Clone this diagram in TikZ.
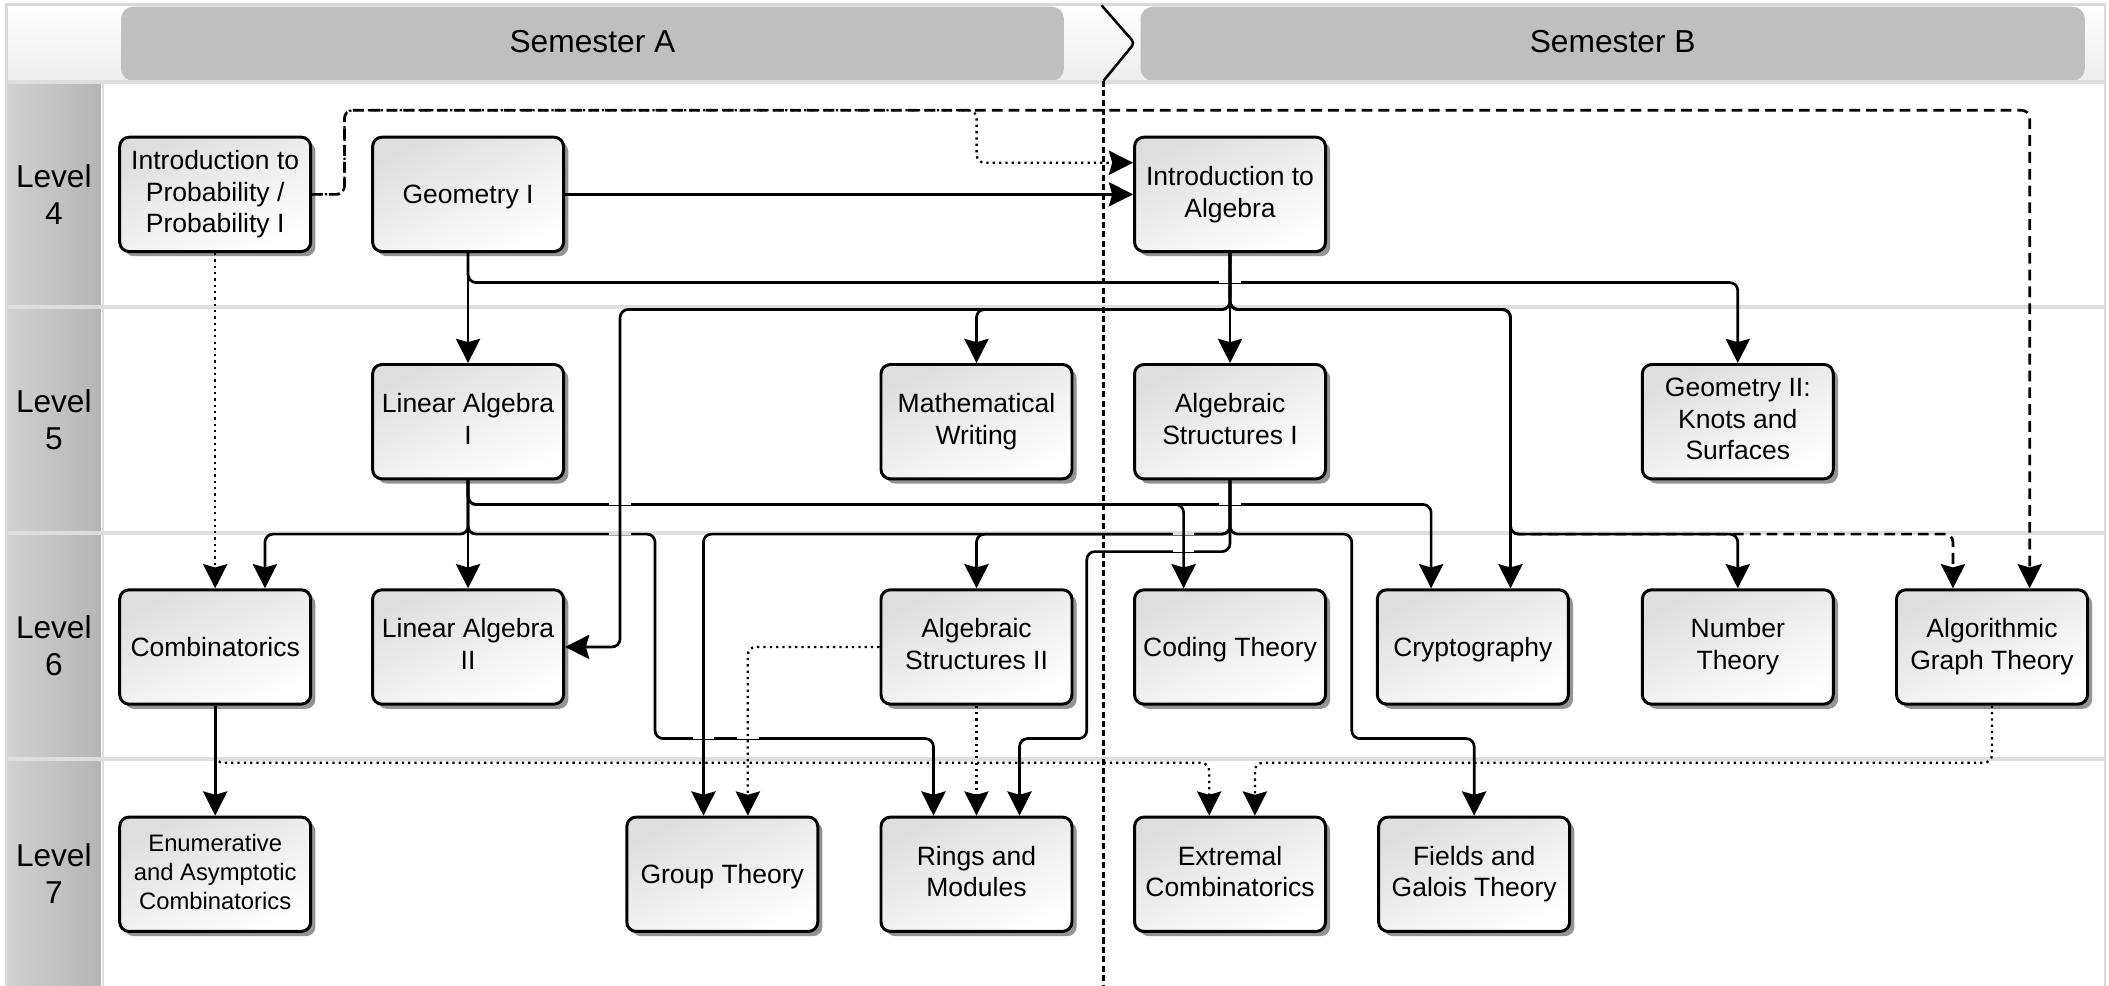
\documentclass[tikz,border=0pt]{standalone}
\usepackage{fontspec}
\setmainfont{Liberation Sans}
\usetikzlibrary{arrows.meta,calc,shadows}
\begin{document}
\begin{tikzpicture}[x=1pt,y=-1pt,
  box/.style={draw=black, line width=2.2pt, rounded corners=7pt,
    minimum width=142pt, minimum height=85pt, inner sep=0pt, align=center,
    font=\fontsize{19.7}{23.6}\selectfont,
    execute at begin node={\rule{0pt}{0.905em}},
    execute at end node={\rule[-0.212em]{0pt}{0.212em}},
    top color=black!13, bottom color=white, shading angle=25,
    drop shadow={shadow xshift=3.5pt, shadow yshift=-3.5pt, fill=black!42, opacity=1}},
  lvltext/.style={align=center, inner sep=0pt, font=\fontsize{23.5}{27.5}\selectfont},
  hdrtext/.style={inner sep=0pt, font=\fontsize{23.6}{28}\selectfont},
  semband/.style={fill=black!25, rounded corners=9pt},
  sepline/.style={draw=black!13, line width=3pt},
  solidarr/.style={line width=2pt, rounded corners=6pt, line join=round,
    -{Stealth[length=18pt,width=18pt,inset=2.5pt]}},
  dasharr/.style={solidarr, dash pattern=on 8pt off 4.5pt},
  dotarr/.style={solidarr, line width=1.7pt, dash pattern=on 1.7pt off 3pt},
  gap/.style={draw=white, line width=3.2pt},
  semline/.style={line width=1.9pt, dash pattern=on 4.5pt off 2.5pt}
]
% canvas
\useasboundingbox (0,0) rectangle (1568,733);
\fill[white] (0,0) rectangle (1568,733);
% header row
\shade[top color=white, bottom color=black!7] (5,4) rectangle (1565,61);
\fill[semband] (90,5) rectangle (791,60);
\fill[semband] (848,5) rectangle (1550,60);
\node[hdrtext] (semA) at (440.5,30.7) {Semester A};
\node[hdrtext] (semB) at (1199,30.7) {Semester B};
% level column
\foreach \n/\ya/\yb in {4/62/227, 5/229.5/395, 6/397.5/563, 7/565.5/733} {
  \shade[left color=black!18, right color=black!29] (5,\ya) rectangle (75,\yb);
  \node[lvltext] (lvl\n) at (40,{(\ya+\yb)/2}) {Level\\\n};
}
% separators and frame
\draw[sepline] (5,61) -- (1565,61);
\draw[sepline] (5,228.2) -- (1565,228.2);
\draw[sepline] (5,396.5) -- (1565,396.5);
\draw[sepline] (5,564.5) -- (1565,564.5);
\draw[draw=black!13, line width=2pt] (76.5,61) -- (76.5,733);
\draw[draw=black!15, line width=2pt] (5,733) -- (5,3.5) -- (1565,3.5) -- (1565,733);
% semester divider
\coordinate (chevT) at (819,4);
\coordinate (chevP) at (843.5,32);
\coordinate (chevB) at (820.5,60);
\coordinate (semEnd) at (820.5,733);
\draw[line width=1.9pt, rounded corners=3pt] (chevT) -- (chevP) -- (chevB);
\draw[semline] (chevB) -- (semEnd);

% nodes
\node[box] (prob) at (160,144.5) {Introduction to\\Probability /\\Probability I};
\node[box] (geo1) at (348,144.5) {Geometry I};
\node[box] (introalg) at (914.5,144.5) {Introduction to\\Algebra};
\node[box] (linalg1) at (348,313.5) {Linear Algebra\\I};
\node[box] (mathwrite) at (726,313.5) {Mathematical\\Writing};
\node[box] (algstr1) at (914.5,313.5) {Algebraic\\Structures I};
\node[box] (geo2) at (1292,313.5) {Geometry II:\\Knots and\\Surfaces};
\node[box] (comb) at (160,481) {Combinatorics};
\node[box] (linalg2) at (348,481) {Linear Algebra\\II};
\node[box] (algstr2) at (726,481) {Algebraic\\Structures II};
\node[box] (coding) at (914.5,481) {Coding Theory};
\node[box] (crypto) at (1095,481) {Cryptography};
\node[box] (numth) at (1292,481) {Number\\Theory};
\node[box] (agt) at (1481,481) {Algorithmic\\Graph Theory};
\node[box, font=\fontsize{17.7}{21.5}\selectfont] (enum) at (160,650) {Enumerative\\and Asymptotic\\Combinatorics};
\node[box] (group) at (537,650) {Group Theory};
\node[box] (rings) at (726,650) {Rings and\\Modules};
\node[box] (extremal) at (914.5,650) {Extremal\\Combinatorics};
\node[box] (fields) at (1096,650) {Fields and\\Galois Theory};

% dashed / dotted top routes
\draw[dasharr] (prob.east) -- ++(24,0) -- ++(0,-62.5) -| ($(agt.north)+(28,0)$);
\draw[dotarr] (prob.east) -- ++(24,0) -- ++(0,-62.5) -- ++(470,0) |- ($(introalg.west)+(0,-23.5)$);
\draw[dotarr] (prob.south) -- (comb.north);

% 1. Geometry I -> Geometry II
\draw[solidarr] (geo1.south) -- ++(0,22) -| (geo2.north);
\draw[gap] (906.5,209) -- (922.5,209);
% 2. Linear Algebra I -> Rings
\draw[solidarr] (linalg1.south) -- ++(0,40) -- ++(139,0) -- ++(0,152) -| ($(rings.north)+(-32,0)$);
\draw[gap] (453,396) -- (469,396);
\draw[sepline] (453,396.5) -- (469,396.5);
\draw[gap] (515,548) -- (531,548);
\draw[gap] (548,548) -- (564,548);
% 3. Linear Algebra I -> Cryptography
\draw[solidarr] (linalg1.south) -- ++(0,18) -| ($(crypto.north)+(-31,0)$);
\draw[gap] (906.5,374) -- (922.5,374);
% 4. Algebraic Structures I routes
\draw[solidarr] (algstr1.south) -- ++(0,40) -| (algstr2.north);
\draw[solidarr] (algstr1.south) -- ++(0,40) -| ($(group.north)+(-14,0)$);
\draw[solidarr] (algstr1.south) -- ++(0,53) -- ++(-106.5,0) -- ++(0,139) -| ($(rings.north)+(32,0)$);
\draw[solidarr] (algstr1.south) -- ++(0,40) -- ++(90.5,0) -- ++(0,152) -| (fields.north);
\draw[gap] (872,396) -- (888,396);
\draw[sepline] (872,396.5) -- (888,396.5);
\draw[gap] (872,409) -- (888,409);
% 5. Linear Algebra I -> Coding Theory
\draw[solidarr] (linalg1.south) -- ++(0,18) -| ($(coding.north)+(-34.5,0)$);
\draw[gap] (453,374) -- (469,374);
% 6. remaining
\draw[solidarr] (geo1.east) -- (introalg.west);
\draw[solidarr] (geo1.south) -- (linalg1.north);
\draw[dasharr] (introalg.south) -- ++(0,42) -- ++(208.5,0) -- ++(0,167) -| ($(agt.north)+(-29,0)$);
\draw[solidarr] (introalg.south) -- (algstr1.north);
\draw[solidarr] (introalg.south) -- ++(0,42) -| (mathwrite.north);
\draw[solidarr] (introalg.south) -- ++(0,42) -- ++(-453.5,0) |- (linalg2.east);
\draw[solidarr] (introalg.south) -- ++(0,42) -| ($(crypto.north)+(28,0)$);
\draw[solidarr] (introalg.south) -- ++(0,42) -- ++(208.5,0) -- ++(0,167) -| (numth.north);
\draw[solidarr] (linalg1.south) -- (linalg2.north);
\draw[solidarr] (linalg1.south) -- ++(0,40) -| ($(comb.north)+(37,0)$);
\draw[solidarr] (comb.south) -- (enum.north);
\draw[dotarr] (algstr2.west) -| ($(group.north)+(19,0)$);
\draw[dotarr] (algstr2.south) -- (rings.north);
\draw[dotarr] (comb.south) -- ++(0,42.5) -| ($(extremal.north)+(-15.5,0)$);
\draw[dotarr] (agt.south) -- ++(0,42.5) -| ($(extremal.north)+(18.5,0)$);
\end{tikzpicture}
\end{document}
